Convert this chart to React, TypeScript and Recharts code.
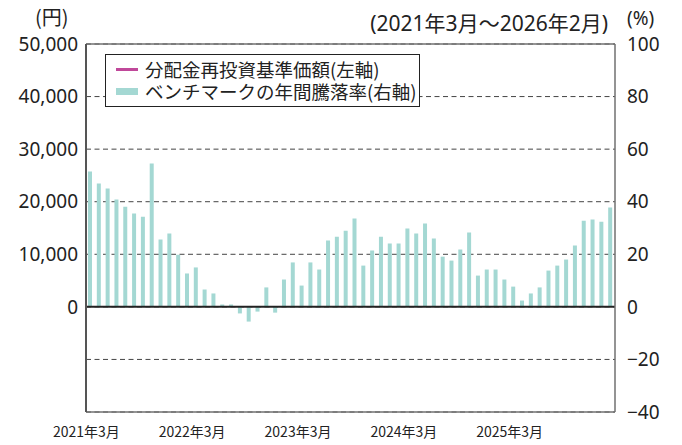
import React from "react";
import {
  ComposedChart,
  Bar,
  Line,
  XAxis,
  YAxis,
  CartesianGrid,
  ReferenceLine,
} from "recharts";

// ベンチマークの年間騰落率 (%), 2021年3月〜2026年2月
const rates = [
  51.5, 46.9, 45.0, 40.8, 38.1, 35.5, 34.3, 54.5, 25.6, 27.9,
  19.8, 12.7, 15.0, 6.6, 5.1, 0.9, 0.9, -2.5, -5.6, -1.8,
  7.4, -2.2, 10.4, 16.9, 8.1, 16.9, 14.2, 25.2, 26.7, 29.0,
  33.6, 15.7, 21.4, 26.7, 24.1, 24.1, 29.8, 27.9, 31.7, 26.0,
  19.1, 17.6, 21.8, 28.3, 11.9, 14.2, 14.2, 10.4, 7.7, 2.4,
  5.1, 7.4, 13.8, 15.7, 18.0, 23.3, 32.8, 33.2, 32.4, 37.8,
];

// 分配金再投資基準価額 (円): not plotted in the reference
const nav: (number | null)[] = rates.map(() => null);

const xTicks = ["2021/3", "2022/3", "2023/3", "2024/3", "2025/3"];
const leftTicks = [0, 10000, 20000, 30000, 40000, 50000];
const rightTicks = [-40, -20, 0, 20, 40, 60, 80, 100];

const months = rates.map((_, i) => {
  const m = 3 + i;
  const y = 2021 + Math.floor((m - 1) / 12);
  return `${y}/${((m - 1) % 12) + 1}`;
});

const data = months.map((month, i) => ({ month, rate: rates[i], nav: nav[i] }));

const FONT = "'Noto Sans', 'Noto Sans CJK JP', sans-serif";
const JP = "'Noto Sans CJK JP', sans-serif";
const FRAME = "#707070";
const BAR = "#a4d8d3";
const LINE = "#c0489a";

const fmtLeft = (v: number) => v.toLocaleString("en-US");
const fmtRight = (v: number) => (v < 0 ? `\u2212${Math.abs(v)}` : `${v}`);
const fmtMonth = (v: string) => {
  const [y, m] = v.split("/");
  return `${y}年${m}月`;
};

const XLabelTick = ({ x, y, payload }: any) => (
  <text
    x={x - 4}
    y={y + 17}
    textAnchor="middle"
    fontSize={14}
    fontFamily={JP}
    fill="#222"
  >
    {fmtMonth(payload.value)}
  </text>
);

export default function App() {
  return (
    <div
      style={{
        position: "absolute",
        left: 0,
        top: 0,
        width: 682,
        height: 445,
        background: "#fff",
        fontFamily: FONT,
        color: "#222",
      }}
    >
      <ComposedChart
        width={682}
        height={445}
        data={data}
        margin={{ top: 44, right: 0, bottom: 0, left: 0 }}
      >
        <CartesianGrid
          yAxisId="right"
          vertical={false}
          stroke="#444"
          strokeDasharray="5 3.5"
        />
        <XAxis
          dataKey="month"
          ticks={xTicks}
          interval={0}
          height={33}
          tickLine={false}
          axisLine={{ stroke: FRAME, strokeWidth: 1.5 }}
          tick={<XLabelTick />}
        />
        <YAxis
          yAxisId="left"
          orientation="left"
          width={86}
          domain={[-20000, 50000]}
          allowDataOverflow
          ticks={leftTicks}
          interval={0}
          tickFormatter={fmtLeft}
          tickLine={false}
          axisLine={{ stroke: "#555", strokeWidth: 2 }}
          tick={{ fontSize: 19, fill: "#222", fontFamily: FONT }}
        />
        <YAxis
          yAxisId="right"
          orientation="right"
          width={67}
          domain={[-40, 100]}
          allowDataOverflow
          ticks={rightTicks}
          interval={0}
          tickFormatter={fmtRight}
          tickLine={false}
          tickMargin={6}
          axisLine={{ stroke: FRAME, strokeWidth: 1.5 }}
          tick={{ fontSize: 19, fill: "#222", fontFamily: FONT }}
        />
        <Bar
          yAxisId="right"
          dataKey="rate"
          fill={BAR}
          barSize={4}
          isAnimationActive={false}
        />
        <Line
          yAxisId="left"
          dataKey="nav"
          stroke={LINE}
          strokeWidth={2}
          dot={false}
          isAnimationActive={false}
        />
        <ReferenceLine yAxisId="right" y={0} stroke="#222" strokeWidth={2} />
        <ReferenceLine yAxisId="right" y={100} stroke={FRAME} strokeWidth={1.5} />
      </ComposedChart>

      <div style={{ position: "absolute", left: 35, top: 3, fontSize: 20, fontFamily: JP, lineHeight: "28px" }}>
        (円)
      </div>
      <div
        style={{
          position: "absolute",
          right: 682 - 608,
          top: 7,
          fontSize: 21,
          fontFamily: FONT,
          whiteSpace: "nowrap",
        }}
      >
        (2021年3月～2026年2月)
      </div>
      <div style={{ position: "absolute", left: 627, top: 5, fontSize: 19, fontFamily: FONT }}>
        (%)
      </div>

      <div
        style={{
          position: "absolute",
          left: 105,
          top: 54,
          width: 315,
          height: 53,
          border: "1.5px solid #222",
          background: "#fff",
          fontFamily: JP,
          fontSize: 18.5,
          lineHeight: "21px",
          boxSizing: "border-box",
        }}
      >
        <div style={{ display: "flex", alignItems: "center", marginTop: 4 }}>
          <span
            style={{ display: "inline-block", width: 22, height: 3, background: LINE, marginLeft: 10, marginRight: 7 }}
          />
          <span style={{ whiteSpace: "nowrap" }}>分配金再投資基準価額(左軸)</span>
        </div>
        <div style={{ display: "flex", alignItems: "center", marginTop: 1 }}>
          <span
            style={{ display: "inline-block", width: 22, height: 7, background: BAR, marginLeft: 10, marginRight: 7 }}
          />
          <span style={{ whiteSpace: "nowrap" }}>ベンチマークの年間騰落率(右軸)</span>
        </div>
      </div>
    </div>
  );
}
